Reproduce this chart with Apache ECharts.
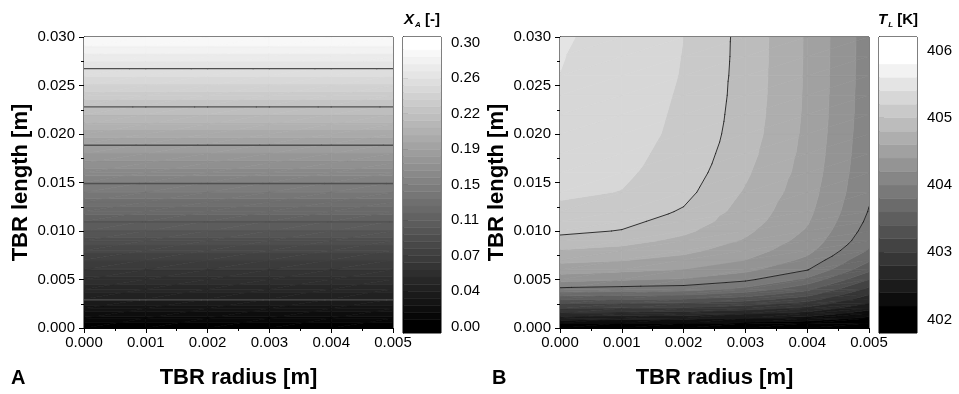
<!DOCTYPE html>
<html>
<head>
<meta charset="utf-8">
<script src="https://cdn.jsdelivr.net/npm/echarts@6/dist/echarts.min.js"></script>
<style>
html,body{margin:0;padding:0;background:#fff;}
#chart{width:959px;height:394px;}
</style>
</head>
<body>
<div id="chart"></div>
<script>
// ---------------- DATA ----------------
// radial grid nodes [m]
const rNodes = [0, 0.001, 0.002, 0.003, 0.004, 0.005];

// Panel A: conversion X_A vs TBR length (independent of radius)
const xaLength = [0, 0.001, 0.002, 0.003, 0.004, 0.005, 0.006, 0.007, 0.008, 0.009, 0.010,
  0.011, 0.012, 0.013, 0.014, 0.015, 0.016, 0.017, 0.018, 0.019, 0.020,
  0.021, 0.022, 0.023, 0.024, 0.025, 0.026, 0.027, 0.028, 0.029, 0.030];
const xaValues = [0.000, 0.013, 0.026, 0.0388, 0.048, 0.057, 0.066, 0.076, 0.085, 0.094, 0.104,
  0.113, 0.1225, 0.132, 0.1415, 0.151, 0.1605, 0.170, 0.1795, 0.189, 0.1985,
  0.208, 0.2175, 0.227, 0.2365, 0.246, 0.2555, 0.265, 0.2745, 0.284, 0.292];
const xaColorLevels = [0.0075, 0.015, 0.0225, 0.03, 0.0375, 0.045, 0.0525, 0.06, 0.0675, 0.075,
  0.0825, 0.09, 0.0975, 0.105, 0.1125, 0.12, 0.1275, 0.135, 0.1425, 0.15,
  0.1575, 0.165, 0.1725, 0.18, 0.1875, 0.195, 0.2025, 0.21, 0.2175, 0.225,
  0.2325, 0.24, 0.2475, 0.255, 0.2625, 0.27, 0.2775, 0.285, 0.2925];
const xaLineLevels = [0.0375, 0.1125, 0.15, 0.1875, 0.225, 0.2625];
const xaBarRange = [-0.0066, 0.306];
const xaTickValues = [0, 0.0375, 0.075, 0.1125, 0.15, 0.1875, 0.225, 0.2625, 0.30];
const xaTickLabels = ['0.00', '0.04', '0.07', '0.11', '0.15', '0.19', '0.22', '0.26', '0.30'];

// Panel B: liquid temperature T_L [K]; one column per radial node
const tlLength = [0, 0.0005, 0.001, 0.0015, 0.002, 0.0025, 0.003, 0.0035, 0.004, 0.005, 0.006,
  0.007, 0.008, 0.009, 0.010, 0.011, 0.012, 0.014, 0.016, 0.018, 0.020, 0.022, 0.024, 0.026, 0.028, 0.030];
const tlAtR0 = [401.6, 402.25, 402.5, 402.75, 403.0, 403.2, 403.45, 403.7, 403.95, 404.28, 404.5,
  404.65, 404.79, 404.93, 405.05, 405.1, 405.16, 405.23, 405.27, 405.3, 405.32, 405.34, 405.37, 405.398, 405.41, 405.43];
const tlAtR1 = [401.6, 402.22, 402.47, 402.72, 402.97, 403.17, 403.42, 403.67, 403.92, 404.22, 404.45,
  404.61, 404.74, 404.87, 404.99, 405.06, 405.11, 405.195, 405.23, 405.25, 405.27, 405.28, 405.29, 405.3, 405.305, 405.31];
const tlAtR2 = [401.6, 402.2, 402.45, 402.7, 402.95, 403.15, 403.4, 403.65, 403.89, 404.18, 404.39,
  404.54, 404.65, 404.75, 404.84, 404.91, 404.98, 405.06, 405.11, 405.14, 405.16, 405.17, 405.18, 405.19, 405.195, 405.2];
const tlAtR3 = [401.6, 402.15, 402.4, 402.63, 402.87, 403.08, 403.3, 403.52, 403.74, 404.05, 404.25,
  404.4, 404.5, 404.58, 404.64, 404.69, 404.72, 404.78, 404.83, 404.87, 404.9, 404.915, 404.925, 404.93, 404.935, 404.937];
const tlAtR4 = [401.6, 402.1, 402.33, 402.53, 402.73, 402.92, 403.1, 403.28, 403.45, 403.75, 404.01,
  404.15, 404.26, 404.33, 404.38, 404.42, 404.45, 404.49, 404.52, 404.54, 404.555, 404.565, 404.57, 404.573, 404.575, 404.576];
const tlAtR5 = [401.5, 401.95, 402.15, 402.3, 402.45, 402.58, 402.7, 402.82, 402.95, 403.2, 403.45,
  403.63, 403.78, 403.87, 403.92, 403.96, 403.99, 404.03, 404.05, 404.065, 404.075, 404.085, 404.09, 404.095, 404.098, 404.1];
const tlColorLevels = [402.2, 402.4, 402.6, 402.8, 403.0, 403.2, 403.4, 403.6, 403.8, 404.0,
  404.2, 404.4, 404.6, 404.8, 405.0, 405.2, 405.4, 405.6, 405.8];
const tlLineLevels = [404.0, 405.0];
const tlBarRange = [401.8, 406.2];
const tlTickValues = [402, 403, 404, 405, 406];
const tlTickLabels = ['402', '403', '404', '405', '406'];

// axis ticks of the two maps
const radiusTicks = { min: 0, max: 0.005, step: 0.001 };
const lengthTicks = { min: 0, max: 0.030, step: 0.005 };

// ---------------- HELPERS ----------------
const FONT = '"Liberation Sans", Arial, Helvetica, sans-serif';

function buildCells(rs, Ls, getVal) {
  const cells = [];
  for (let i = 0; i < rs.length - 1; i++) {
    for (let j = 0; j < Ls.length - 1; j++) {
      cells.push([rs[i], Ls[j], rs[i + 1], Ls[j + 1],
        getVal(i, j), getVal(i + 1, j), getVal(i, j + 1), getVal(i + 1, j + 1)]);
    }
  }
  return cells;
}

function grayFor(k, n) {
  const g = Math.round(k / (n - 1) * 255);
  return 'rgb(' + g + ',' + g + ',' + g + ')';
}

function clipPoly(poly, f) {
  const out = [];
  for (let i = 0; i < poly.length; i++) {
    const cur = poly[i], prev = poly[(i + poly.length - 1) % poly.length];
    const fc = f(cur.v), fp = f(prev.v);
    if (fc >= 0) {
      if (fp < 0) out.push(lerpPt(prev, cur, fp / (fp - fc)));
      out.push(cur);
    } else if (fp >= 0) {
      out.push(lerpPt(prev, cur, fp / (fp - fc)));
    }
  }
  return out;
}
function lerpPt(a, b, t) {
  return { x: a.x + t * (b.x - a.x), y: a.y + t * (b.y - a.y), v: a.v + t * (b.v - a.v) };
}

function cellTriangles(api) {
  const r0 = api.value(0), L0 = api.value(1), r1 = api.value(2), L1 = api.value(3);
  const c00 = api.coord([r0, L0]), c10 = api.coord([r1, L0]), c01 = api.coord([r0, L1]), c11 = api.coord([r1, L1]);
  const a = { x: c00[0], y: c00[1], v: api.value(4) };
  const b = { x: c10[0], y: c10[1], v: api.value(5) };
  const d = { x: c01[0], y: c01[1], v: api.value(6) };
  const c = { x: c11[0], y: c11[1], v: api.value(7) };
  return [[a, b, c], [a, c, d]];
}

function makeFillRender(levels) {
  const n = levels.length + 1;
  return function (params, api) {
    const children = [];
    cellTriangles(api).forEach(function (tri) {
      const vs = tri.map(p => p.v);
      const vmin = Math.min.apply(null, vs), vmax = Math.max.apply(null, vs);
      for (let k = 0; k < n; k++) {
        const lo = k === 0 ? -Infinity : levels[k - 1];
        const hi = k === n - 1 ? Infinity : levels[k];
        if (vmax < lo || vmin >= hi) continue;
        let poly = tri;
        if (lo > -Infinity) poly = clipPoly(poly, v => v - lo);
        if (poly.length >= 3 && hi < Infinity) poly = clipPoly(poly, v => hi - v);
        if (poly.length < 3) continue;
        const col = grayFor(k, n);
        children.push({
          type: 'polygon',
          shape: { points: poly.map(p => [p.x, p.y]) },
          style: { fill: col, stroke: col, lineWidth: 0.7 }
        });
      }
    });
    return { type: 'group', children: children };
  };
}

function makeLineRender(lineLevels, color, width) {
  return function (params, api) {
    const children = [];
    cellTriangles(api).forEach(function (tri) {
      lineLevels.forEach(function (lev) {
        const pts = [];
        for (let e = 0; e < 3; e++) {
          const p = tri[e], q = tri[(e + 1) % 3];
          if ((p.v >= lev) !== (q.v >= lev)) {
            const t = (lev - p.v) / (q.v - p.v);
            pts.push([p.x + t * (q.x - p.x), p.y + t * (q.y - p.y)]);
          }
        }
        if (pts.length === 2) {
          children.push({
            type: 'line',
            shape: { x1: pts[0][0], y1: pts[0][1], x2: pts[1][0], y2: pts[1][1] },
            style: { stroke: color, lineWidth: width, lineCap: 'round' }
          });
        }
      });
    });
    return { type: 'group', children: children };
  };
}

function buildBands(levels, range) {
  const edges = [range[0]].concat(levels, [range[1]]);
  const out = [];
  for (let k = 0; k < edges.length - 1; k++) out.push([edges[k], edges[k + 1], k]);
  return out;
}
function makeBarRender(n) {
  return function (params, api) {
    const p0 = api.coord([0, api.value(0)]);
    const p1 = api.coord([1, api.value(1)]);
    const col = grayFor(api.value(2), n);
    return {
      type: 'rect',
      shape: { x: p0[0], y: p1[1], width: p1[0] - p0[0], height: p0[1] - p1[1] },
      style: { fill: col, stroke: col, lineWidth: 0.5 }
    };
  };
}

// ---------------- TABLES ----------------
const xaCells = buildCells(rNodes, xaLength, (i, j) => xaValues[j]);
const tlColumns = [tlAtR0, tlAtR1, tlAtR2, tlAtR3, tlAtR4, tlAtR5];
const tlCells = buildCells(rNodes, tlLength, (i, j) => tlColumns[i][j]);
const xaBands = buildBands(xaColorLevels, xaBarRange);
const tlBands = buildBands(tlColorLevels, tlBarRange);

// ---------------- AXES ----------------
const labelStyle = { color: '#000', fontSize: 15, fontFamily: FONT };
const titleStyle = { color: '#000', fontSize: 22, fontWeight: 'bold', fontFamily: FONT };

function mainX(gridIndex) {
  return {
    type: 'value', gridIndex: gridIndex, min: radiusTicks.min, max: radiusTicks.max, interval: radiusTicks.step,
    name: 'TBR radius [m]', nameLocation: 'middle', nameGap: 39, nameTextStyle: titleStyle,
    axisLine: { show: true, onZero: false, lineStyle: { color: '#000', width: 1 } },
    axisTick: { show: true, length: 5, lineStyle: { color: '#000' } },
    minorTick: { show: true, splitNumber: 2, length: 3, lineStyle: { color: '#000' } },
    axisLabel: Object.assign({ margin: 7, formatter: v => v.toFixed(3) }, labelStyle),
    splitLine: { show: false }, minorSplitLine: { show: false }
  };
}
function mainY(gridIndex) {
  return {
    type: 'value', gridIndex: gridIndex, min: lengthTicks.min, max: lengthTicks.max, interval: lengthTicks.step,
    name: 'TBR length [m]', nameLocation: 'middle', nameGap: 52, nameTextStyle: titleStyle,
    axisLine: { show: true, onZero: false, lineStyle: { color: '#000', width: 1 } },
    axisTick: { show: true, length: 5, lineStyle: { color: '#000' } },
    minorTick: { show: true, splitNumber: 2, length: 3, lineStyle: { color: '#000' } },
    axisLabel: Object.assign({ margin: 9, formatter: v => v.toFixed(3) }, labelStyle),
    splitLine: { show: false }, minorSplitLine: { show: false }
  };
}
function barX(gridIndex) {
  return { type: 'value', gridIndex: gridIndex, min: 0, max: 1, show: false };
}
function barY(gridIndex, range, ticks, labels) {
  return {
    type: 'value', gridIndex: gridIndex, position: 'right', min: range[0], max: range[1],
    axisLine: { show: true, lineStyle: { color: '#000', width: 1 } },
    axisTick: { show: true, length: 5, customValues: ticks, lineStyle: { color: '#000' } },
    axisLabel: Object.assign({
      margin: 10, customValues: ticks,
      formatter: function (v) {
        let best = 0;
        for (let i = 1; i < ticks.length; i++) if (Math.abs(ticks[i] - v) < Math.abs(ticks[best] - v)) best = i;
        return labels[best];
      }
    }, labelStyle),
    splitLine: { show: false }
  };
}

const gridBase = { show: true, borderColor: '#000', borderWidth: 1, backgroundColor: 'transparent', containLabel: false };

const option = {
  animation: false,
  backgroundColor: '#fff',
  textStyle: { fontFamily: FONT },
  grid: [
    Object.assign({ left: 84, top: 37, width: 309, height: 296 }, gridBase),
    Object.assign({ left: 403, top: 37, width: 38, height: 296 }, gridBase),
    Object.assign({ left: 560, top: 37, width: 309, height: 296 }, gridBase),
    Object.assign({ left: 879, top: 37, width: 38, height: 296 }, gridBase)
  ],
  xAxis: [mainX(0), barX(1), mainX(2), barX(3)],
  yAxis: [mainY(0), barY(1, xaBarRange, xaTickValues, xaTickLabels), mainY(2), barY(3, tlBarRange, tlTickValues, tlTickLabels)],
  series: [
    { type: 'custom', xAxisIndex: 0, yAxisIndex: 0, data: xaCells, encode: { x: [0, 2], y: [1, 3] },
      renderItem: makeFillRender(xaColorLevels), clip: true, silent: true, z: 1 },
    { type: 'custom', xAxisIndex: 0, yAxisIndex: 0, data: xaCells, encode: { x: [0, 2], y: [1, 3] },
      renderItem: makeLineRender(xaLineLevels, '#505050', 1.3), clip: true, silent: true, z: 2 },
    { type: 'custom', xAxisIndex: 1, yAxisIndex: 1, data: xaBands, encode: { y: [0, 1] },
      renderItem: makeBarRender(xaColorLevels.length + 1), clip: true, silent: true, z: 1 },
    { type: 'custom', xAxisIndex: 2, yAxisIndex: 2, data: tlCells, encode: { x: [0, 2], y: [1, 3] },
      renderItem: makeFillRender(tlColorLevels), clip: true, silent: true, z: 1 },
    { type: 'custom', xAxisIndex: 2, yAxisIndex: 2, data: tlCells, encode: { x: [0, 2], y: [1, 3] },
      renderItem: makeLineRender(tlLineLevels, '#1e1e1e', 0.9), clip: true, silent: true, z: 2 },
    { type: 'custom', xAxisIndex: 3, yAxisIndex: 3, data: tlBands, encode: { y: [0, 1] },
      renderItem: makeBarRender(tlColorLevels.length + 1), clip: true, silent: true, z: 1 }
  ],
  graphic: [
    { type: 'text', left: 11, top: 368, style: { text: 'A', fontSize: 20, fontWeight: 'bold', fontFamily: FONT, fill: '#000' } },
    { type: 'text', left: 492, top: 368, style: { text: 'B', fontSize: 20, fontWeight: 'bold', fontFamily: FONT, fill: '#000' } },
    { type: 'text', x: 422, y: 20, style: {
        text: '{i|X}{s|A}{n| [-]}', align: 'center', verticalAlign: 'middle', fontFamily: FONT, fill: '#000',
        rich: {
          i: { fontSize: 15, fontWeight: 'bold', fontStyle: 'italic', fontFamily: FONT },
          s: { fontSize: 8, fontWeight: 'bold', fontStyle: 'italic', fontFamily: FONT, padding: [9, 0, 0, 1] },
          n: { fontSize: 15, fontWeight: 'bold', fontFamily: FONT }
        } } },
    { type: 'text', x: 898, y: 20, style: {
        text: '{i|T}{s|L}{n| [K]}', align: 'center', verticalAlign: 'middle', fontFamily: FONT, fill: '#000',
        rich: {
          i: { fontSize: 15, fontWeight: 'bold', fontStyle: 'italic', fontFamily: FONT },
          s: { fontSize: 8, fontWeight: 'bold', fontStyle: 'italic', fontFamily: FONT, padding: [9, 0, 0, 1] },
          n: { fontSize: 15, fontWeight: 'bold', fontFamily: FONT }
        } } }
  ]
};

const chart = echarts.init(document.getElementById('chart'), null, { renderer: 'canvas' });
chart.setOption(option);
</script>
</body>
</html>
